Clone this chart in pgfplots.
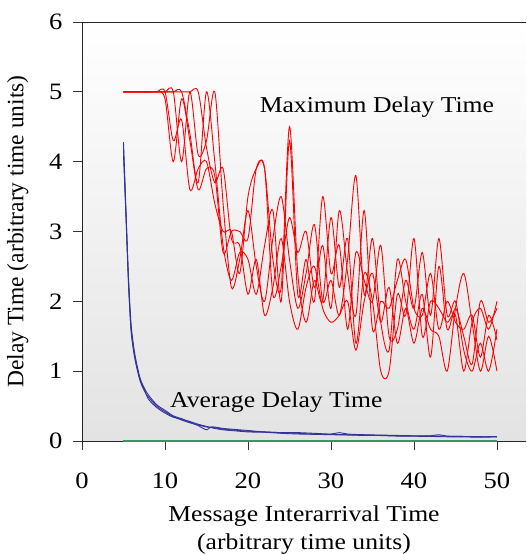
\documentclass[border=0pt]{standalone}
\usepackage{fontspec}
\setmainfont{Liberation Serif}[FakeStretch=1.13]
\newfontfamily\plainserif{Liberation Serif}
\usepackage{pgfplots}
\pgfplotsset{compat=1.18}

\definecolor{maxred}{RGB}{255,0,0}
\definecolor{avgblue}{RGB}{51,51,153}
\definecolor{basegreen}{RGB}{51,153,102}

\begin{document}
\begin{tikzpicture}
\begin{axis}[
  name=ax,
  scale only axis,
  width=444pt, height=419pt,
  xmin=0, xmax=53.5, ymin=0, ymax=6,
  axis x line*=box, axis y line*=left,
  xtick pos=bottom, ytick pos=left,
  axis line style={black!85, line width=0.8pt},
  tick align=outside,
  major tick length=9pt,
  tick style={black!80, line width=0.8pt},
  xtick={0,10,...,50}, ytick={0,1,...,6},
  /pgf/number format/assume math mode=true,
  tick label style={font=\fontsize{23.5}{27}\selectfont},
  xticklabel style={yshift=-19pt},
  yticklabel style={xshift=-7pt},
  xlabel={Message Interarrival Time\\(arbitrary time units)},
  xlabel style={align=center, font=\fontsize{22.7}{28}\selectfont, yshift=-10pt},
  ylabel={Delay Time (arbitrary time units)},
  ylabel style={font=\plainserif\fontsize{23.5}{27}\selectfont, yshift=14pt},
  axis background/.style={top color=white, bottom color=black!11},
  clip=false,
  every axis plot/.append style={smooth, tension=0.5},
]
% maximum delay time runs
\addplot[maxred, line width=0.9pt] coordinates {
(5,5)(6,5)(7,5)(8,5)(9,5)(10,4.9)(11,4.0)(12,4.9)(13,4.3)(14,3.6)(15,3.9)(16,3.8)(17,2.7)(18,3.0)(19,3.0)(20,2.9)(21,3.9)(22,3.9)(23,2.6)(24,2.2)(25,4.5)(26,2.4)(27,1.7)(28,2.3)(29,2.0)(30,3.2)(31,2.2)(32,2.9)(33,1.4)(34,2.4)(35,2.0)(36,1.0)(37,1.0)(38,2.1)(39,1.8)(40,2.9)(41,1.5)(42,2.0)(43,1.9)(44,1.7)(45,1.8)(46,1.0)(47,1.7)(48,1.9)(49,1.6)(50,2.0)};
\addplot[maxred, line width=0.9pt] coordinates {
(5,5)(6,5)(7,5)(8,5)(9,5)(10,5)(11,5)(12,4.0)(13,5.0)(14,4.1)(15,4.3)(16,5.0)(17,3.4)(18,2.2)(19,2.6)(20,3.3)(21,2.5)(22,2.0)(23,2.9)(24,3.5)(25,2.6)(26,1.9)(27,2.4)(28,3.1)(29,2.0)(30,2.3)(31,1.8)(32,2.6)(33,3.8)(34,2.1)(35,2.9)(36,1.7)(37,1.3)(38,2.6)(39,2.0)(40,1.6)(41,2.1)(42,1.2)(43,2.5)(44,1.6)(45,1.9)(46,1.5)(47,1.1)(48,2.0)(49,1.7)(50,1.9)};
\addplot[maxred, line width=0.9pt] coordinates {
(5,5)(6,5)(7,5)(8,5)(9,5)(10,5)(11,5)(12,5)(13,4.4)(14,3.7)(15,5.0)(16,4.0)(17,2.8)(18,2.3)(19,2.7)(20,2.6)(21,2.1)(22,2.8)(23,3.3)(24,2.0)(25,4.3)(26,2.1)(27,2.6)(28,2.0)(29,3.5)(30,2.4)(31,2.8)(32,1.6)(33,2.7)(34,2.3)(35,2.0)(36,2.8)(37,1.5)(38,1.6)(39,2.3)(40,1.9)(41,2.7)(42,1.8)(43,2.9)(44,1.8)(45,2.0)(46,1.3)(47,1.0)(48,1.4)(49,1.0)(50,1.6)};
\addplot[maxred, line width=0.9pt] coordinates {
(5,5)(6,5)(7,5)(8,5)(9,5)(10,5)(11,5)(12,5)(13,5)(14,5.0)(15,4.2)(16,3.7)(17,3.9)(18,2.9)(19,2.8)(20,2.1)(21,2.6)(22,1.8)(23,2.2)(24,2.9)(25,2.0)(26,1.6)(27,2.2)(28,2.5)(29,1.9)(30,1.7)(31,1.8)(32,2.0)(33,1.3)(34,2.0)(35,2.4)(36,1.7)(37,2.2)(38,1.4)(39,1.9)(40,1.4)(41,1.9)(42,1.6)(43,1.5)(44,1.0)(45,1.9)(46,2.4)(47,1.7)(48,1.0)(49,1.5)(50,1.0)};
\addplot[maxred, line width=0.9pt] coordinates {
(5,5)(6,5)(7,5)(8,5)(9,5)(10,5)(11,4.3)(12,4.6)(13,3.6)(14,3.9)(15,4.0)(16,3.4)(17,3.0)(18,3.0)(19,2.4)(20,3.5)(21,3.9)(22,3.9)(23,2.1)(24,2.5)(25,3.2)(26,2.7)(27,3.0)(28,2.2)(29,2.8)(30,1.9)(31,3.3)(32,2.4)(33,1.8)(34,3.3)(35,1.6)(36,2.0)(37,1.9)(38,2.3)(39,2.6)(40,1.9)(41,1.8)(42,2.4)(43,1.6)(44,2.0)(45,1.7)(46,1.6)(47,1.8)(48,1.2)(49,1.8)(50,1.45)};
% average delay time runs
\addplot[avgblue, line width=0.9pt] coordinates {
(5,4.28)(5.3,3.3)(5.6,2.3)(5.9,1.6)(6.2,1.3)(6.5,1.1)(7,0.86)(7.5,0.72)(8,0.63)(9,0.5)(10,0.42)(11,0.35)(12,0.3)(13,0.26)(14,0.23)(15,0.2)(16,0.19)(17,0.17)(18,0.16)(20,0.14)(22,0.13)(24,0.12)(26,0.11)(28,0.1)(30,0.095)(32,0.09)(34,0.085)(36,0.08)(38,0.075)(40,0.072)(42,0.07)(44,0.068)(46,0.065)(48,0.062)(50,0.06)};
\addplot[avgblue, line width=0.9pt] coordinates {
(5,4.2)(5.3,3.25)(5.6,2.35)(5.9,1.7)(6.2,1.38)(6.5,1.16)(7,0.9)(7.5,0.76)(8,0.66)(9,0.52)(10,0.44)(11,0.36)(12,0.32)(13,0.27)(14,0.22)(15,0.16)(15.5,0.2)(16,0.2)(17,0.18)(18,0.17)(20,0.15)(22,0.13)(24,0.12)(26,0.12)(28,0.11)(30,0.1)(31,0.12)(32,0.1)(34,0.09)(36,0.085)(38,0.08)(40,0.075)(42,0.075)(43,0.09)(44,0.07)(46,0.065)(48,0.06)(50,0.065)};
\addplot[avgblue, line width=0.9pt] coordinates {
(5,4.1)(5.3,3.2)(5.6,2.25)(5.9,1.62)(6.2,1.32)(6.5,1.12)(7,0.88)(7.5,0.74)(8,0.6)(9,0.48)(10,0.4)(11,0.34)(12,0.31)(13,0.28)(14,0.24)(15,0.21)(16,0.18)(17,0.16)(18,0.15)(20,0.13)(22,0.125)(24,0.11)(26,0.1)(28,0.095)(30,0.09)(32,0.085)(34,0.08)(36,0.078)(38,0.07)(40,0.068)(42,0.065)(44,0.06)(46,0.058)(48,0.055)(50,0.058)};
% baseline
\addplot[basegreen, line width=1.6pt, sharp plot] coordinates {(5,0)(50,0)};
\node[anchor=west, inner sep=0pt, font=\fontsize{22.7}{27}\selectfont] at (axis cs:21.4,4.78) {Maximum Delay Time};
\node[anchor=west, inner sep=0pt, font=\fontsize{22.7}{27}\selectfont] at (axis cs:10.6,0.56) {Average Delay Time};
\end{axis}
\pgfresetboundingbox
\path[use as bounding box] ([xshift=-82pt,yshift=-113pt]ax.south west) rectangle ([yshift=22pt]ax.north east);
\end{tikzpicture}
\end{document}
